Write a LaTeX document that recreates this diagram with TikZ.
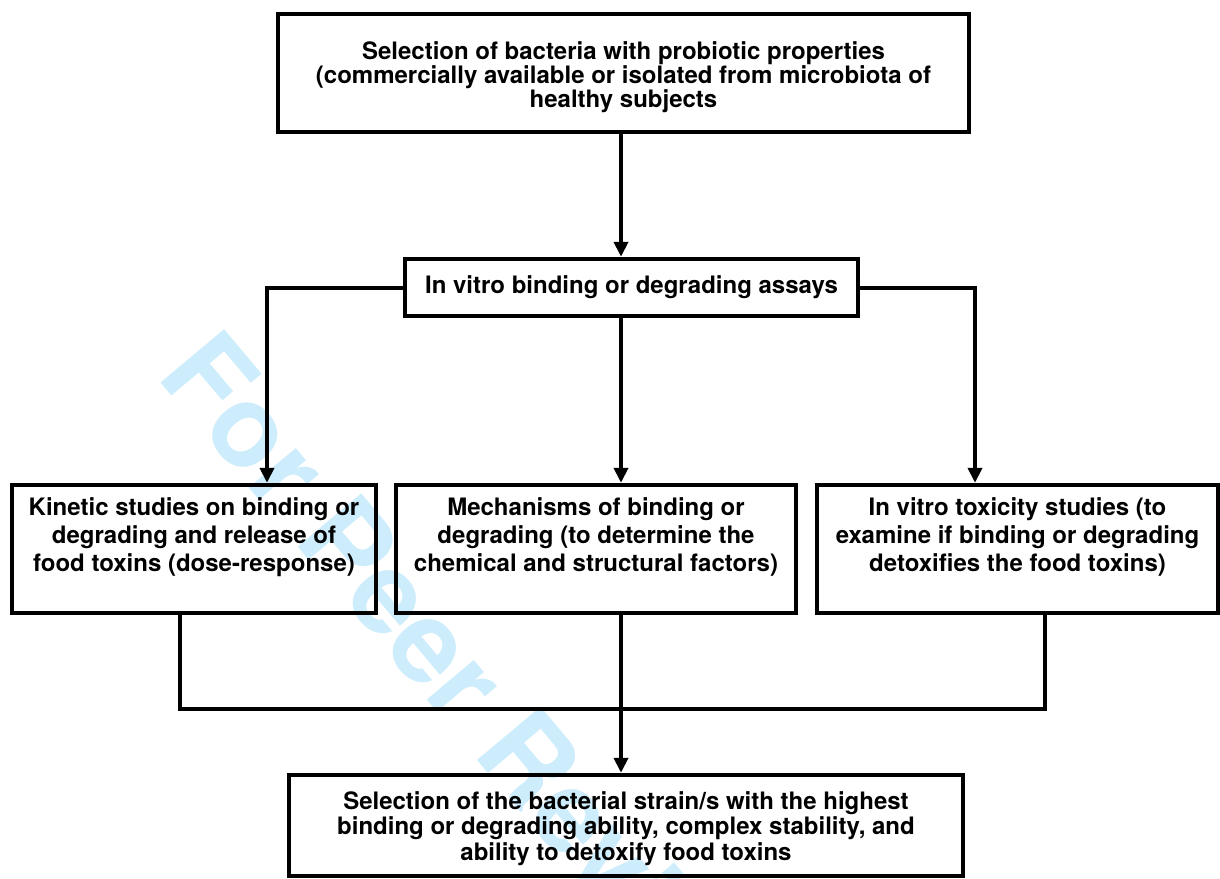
\documentclass[tikz,border=0pt]{standalone}
\usepackage{fontspec}
\setmainfont{TeX Gyre Heros}
\usetikzlibrary{arrows.meta}
\definecolor{wmark}{RGB}{205,237,252}

\begin{document}
\begin{tikzpicture}[x=0.5pt, y=-0.5pt, >={Triangle[width=7pt,length=7.5pt]}, line width=2pt, align=center,
    font=\fontsize{12}{14}\selectfont\bfseries,
    box/.style={draw, line width=2.2pt, inner sep=0pt},
    wide/.style={box, minimum height=64pt}]
  \useasboundingbox (0,0) rectangle (1220,878);

  % watermark
  \node[wmark, rotate=-50, anchor=base west, font=\fontsize{57}{57}\selectfont\bfseries] (wm) at (150,370) {For Peer Review};

  \coordinate (mid) at (621,709);
  \node[box, minimum width=345.5pt, minimum height=59pt, font=\fontsize{12}{12}\selectfont\bfseries] (sel) at (623.5,73)
    {\rule{0pt}{13pt}Selection of bacteria with probiotic properties\\ (commercially available or isolated from microbiota of\\ healthy subjects};
  \node[box, minimum width=226.5pt, minimum height=28.5pt] (assay) at (631.5,287.5) {In vitro binding or degrading assays};
  \node[wide, minimum width=182pt] (kin) at (194,549)
    {Kinetic studies on binding or\\ degrading and release of\\ food toxins (dose-response)\\ ~};
  \node[wide, minimum width=200pt] (mech) at (596,549)
    {Mechanisms of binding or\\ degrading (to determine the\\ chemical and structural factors)\\ ~};
  \node[wide, minimum width=200.5pt] (tox) at (1017.5,549)
    {In vitro toxicity studies (to\\ examine if binding or degrading\\ detoxifies the food toxins)\\ ~};
  \node[box, minimum width=337pt, minimum height=50.5pt, font=\fontsize{12}{12.75}\selectfont\bfseries] (pick) at (626,825.5)
    {\rule{0pt}{12pt}Selection of the bacterial strain/s with the highest\\ binding or degrading ability, complex stability, and\\ ability to detoxify food toxins};

  \draw[->] (sel.south -| mid) -- (assay.north -| mid);
  \draw[->] (assay.west) -| ([xshift=36.5pt]kin.north);
  \draw[->] (assay.south -| mid) -- (mech.north -| mid);
  \draw[->] (assay.east) -| ([xshift=-21.25pt]tox.north);
  \draw ([xshift=-7pt]kin.south) |- (mid) -| ([xshift=13.75pt]tox.south);
  \draw[->] (mech.south -| mid) -- (pick.north -| mid);
\end{tikzpicture}
\end{document}
